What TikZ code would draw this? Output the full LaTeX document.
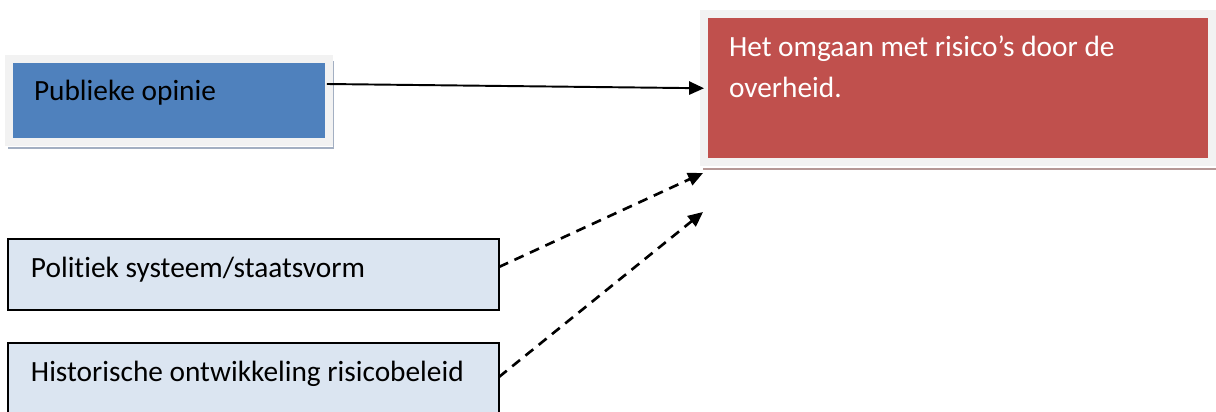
\documentclass[tikz,border=0pt]{standalone}
\usepackage{fontspec}
\setmainfont{Carlito}[RawFeature=-liga]
\usetikzlibrary{arrows.meta}
\definecolor{opblue}{HTML}{4F81BD}
\definecolor{riskred}{HTML}{C0504D}
\definecolor{factorfill}{HTML}{DBE5F1}
\definecolor{framegray}{HTML}{F2F2F2}
\definecolor{opshade}{HTML}{A3AFC2}
\definecolor{riskshade}{HTML}{B59896}

\begin{document}
\begin{tikzpicture}[x=0.02cm, y=-0.02cm,
    every node/.append style={outer sep=0pt},
    frame/.style={draw=framegray, line width=0.16cm},
    factor/.style={draw=black, fill=factorfill, line width=0.8pt,
      minimum width=9.82cm, minimum height=1.42cm},
    txt/.style={inner sep=0pt, anchor=base west,
      font=\fontsize{16.7}{23.3}\selectfont},
    infl/.style={line width=1.1pt, -{Triangle[length=8.5pt,width=7.5pt]}},
    weak/.style={infl, line width=1.5pt, dash pattern=on 5.7pt off 4pt}]
  \useasboundingbox (0,0) rectangle (1216,412);
  \clip (0,0) rectangle (1216,412);
  \fill[white] (0,0) rectangle (1216,412);

  % public opinion box with its frame and shadow
  \node[frame, fill=opblue, minimum width=6.4cm, minimum height=1.66cm] (opinie) at (169,100.5) {};
  \draw[opshade, line width=1pt] ([shift={(4.5,2)}]opinie.north east) |- ([shift={(-1,6)}]opinie.south west);
  \node[txt] (opinietxt) at (34,100) {Publieke opinie};

  % how the government deals with risks (base = last line)
  \node[frame, fill=riskred, minimum width=10.16cm, minimum height=2.97cm] (risico) at (958,88.25) {};
  \draw[riskshade, line width=1.2pt] ([shift={(-1,6.5)}]risico.south west) -- ([shift={(10,6.5)}]risico.south east);
  \node[txt, text=white, align=left] (risicotxt) at (729,97) {Het omgaan met risico’s door de\\overheid.};

  \node[factor] (politiek) at (253.5,274.5) {};
  \node[txt] (politiektxt) at (31,277) {Politiek systeem/staatsvorm};
  \node[factor] (historie) at (253.5,378.5) {};
  \node[txt] (historietxt) at (31,381) {Historische ontwikkeling risicobeleid};

  \draw[infl] ([shift={(-2,-16.5)}]opinie.east) -- (risico.west);
  \draw[weak] ([shift={(0,-7.5)}]politiek.east) -- ([shift={(-1,10.5)}]risico.south west);
  \draw[weak] ([shift={(0,-1.5)}]historie.east) -- ([shift={(-1,49.5)}]risico.south west);
\end{tikzpicture}
\end{document}
